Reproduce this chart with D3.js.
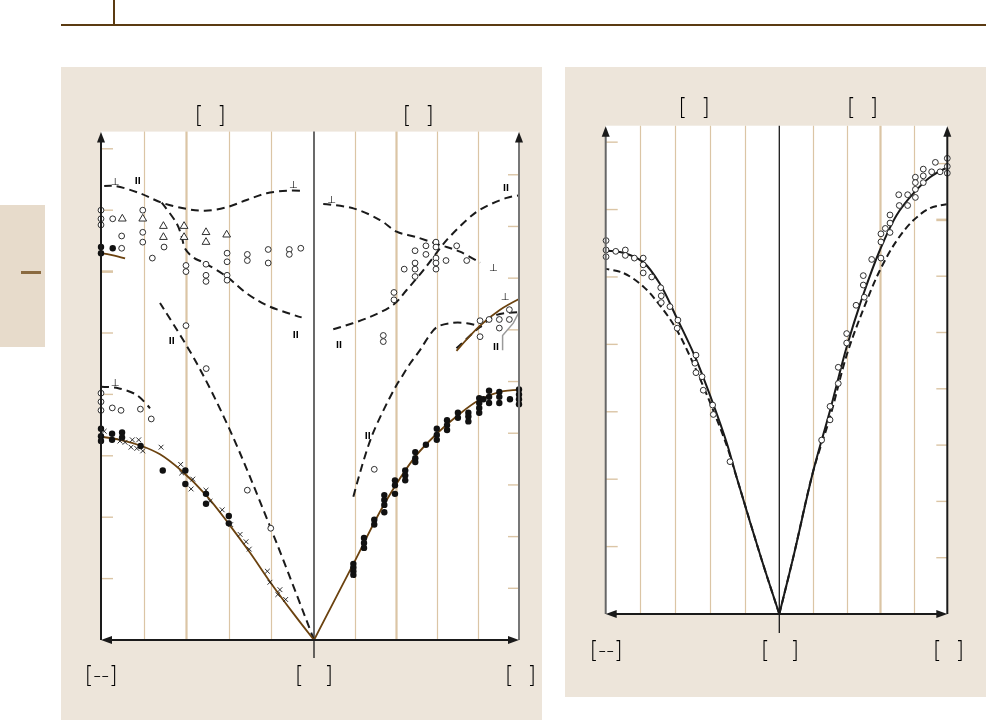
<!DOCTYPE html>
<html><head><meta charset="utf-8">
<script src="https://cdn.jsdelivr.net/npm/d3@7"></script>
<style>body{margin:0;background:#fff}svg{display:block}.gray{filter:grayscale(100%);}</style>
</head><body>
<script>
// ================= DATA =================
// tick values (labels removed in reference)
const ticksMeV1 = [5,10,15,20,25,30,35,40];
const ticksTHz1 = [1,2,3,4,5,6,7,8,9];
const ticksMeV2 = [5,10,15,20,25,30,35];
const ticksTHz2 = [1,2,3,4,5,6,7,8];
const gridZeta = [0.2,0.4,0.6,0.8];

// ---- Plot 1, left half (zeta, meV) ----
const p1A_fitBrown = [[0,0],[0.097,2.17],[0.207,4.75],[0.3,7.1],[0.402,9.5],[0.507,11.8],[0.626,13.84],[0.723,15.12],[0.809,15.8],[0.911,16.3],[1,16.55]];
const p1A_fitBrownTop = [[1,31.5],[0.948,31.35],[0.887,31.08]];
const p1A_dashLA = [[0,0],[0.203,9.1],[0.402,17.37],[0.559,22.8],[0.723,27.44]];
const p1A_dashTop = [[0.066,36.59],[0.128,36.59],[0.222,36.38],[0.316,35.83],[0.41,35.24],[0.512,34.96],[0.598,35.1],[0.715,35.61],[0.817,36.38],[0.934,36.97],[0.985,36.97]];
const p1A_dashBranch = [[0.715,35.61],[0.645,33.93],[0.621,32.84],[0.606,31.9],[0.567,31.16],[0.512,30.68],[0.41,29.59],[0.316,28.23],[0.215,27.2],[0.058,26.27]];
const p1A_dashLow = [[1.0,20.63],[0.919,20.5],[0.832,19.95],[0.77,18.87]];
const p1A_open = [[1,35.0],[1,34.3],[1,33.8],[0.945,34.3],[0.804,35.0],[0.903,32.9],[0.804,33.2],[0.903,31.9],[0.804,32.4],[0.704,32.0],[0.759,31.1],[0.601,30.5],[0.601,30.0],[0.507,30.6],[0.507,29.7],[0.507,29.2],[0.408,31.5],[0.408,30.8],[0.408,29.7],[0.408,29.3],[0.313,31.4],[0.313,30.9],[0.215,31.8],[0.215,30.7],[0.116,31.8],[0.116,31.4],[0.062,31.9],[0.601,25.6],[0.506,22.1],[0.313,12.2],[0.203,9.1],[1,20.1],[1,19.4],[1,18.7],[0.947,18.9],[0.906,18.7],[0.815,18.8],[0.764,18.0]];
const p1A_tri = [[0.9,34.3],[0.804,34.3],[0.707,33.7],[0.61,33.7],[0.707,32.8],[0.61,32.8],[0.507,33.2],[0.507,32.4],[0.41,33.0]];
const p1A_filled = [[1,32.0],[1,31.5],[0.945,31.9],[1,17.2],[1,16.6],[1,16.2],[0.948,16.8],[0.948,16.3],[0.901,16.9],[0.901,16.5],[0.814,15.8],[0.71,13.8],[0.604,13.8],[0.604,12.7],[0.507,11.9],[0.507,11.1],[0.4,10.1],[0.4,9.5]];
const p1A_cross = [[0.985,17.0],[0.911,16.2],[0.887,16.1],[0.859,15.7],[0.853,16.3],[0.832,15.6],[0.823,16.3],[0.804,15.4],[0.718,15.7],[0.626,14.3],[0.621,13.6],[0.569,13.1],[0.577,12.3],[0.507,12.2],[0.488,11.3],[0.431,10.6],[0.391,9.4],[0.347,8.6],[0.319,8.0],[0.304,7.4],[0.219,5.6],[0.207,4.7],[0.16,4.1],[0.17,3.7],[0.133,3.3]];
const p1A_labels = [["⊥",0.934,37.3],["II",0.828,37.3],["⊥",0.097,37.1],["II",0.668,24.3],["II",0.086,24.8],["⊥",0.934,20.95]];

// ---- Plot 1, right half ----
const p1B_fitBrown = [[0,0],[0.192,6.2],[0.343,11.07],[0.494,14.93],[0.598,16.78],[0.702,18.3],[0.806,19.54],[0.907,20.2],[1,20.36]];
const p1B_fitBrownTop = [[0.695,23.55],[0.81,25.6],[0.908,26.9],[1.0,27.77]];
const p1B_dashTop = [[0.045,35.5],[0.192,35.15],[0.322,34.2],[0.403,33.25],[0.493,32.84],[0.615,32.17],[0.712,31.62],[0.81,30.72]];
const p1B_dashRise = [[0.094,25.3],[0.257,26.2],[0.387,27.3],[0.452,28.5],[0.533,30.1],[0.615,31.9],[0.649,32.6],[0.745,34.2],[0.81,35.05],[0.94,36.0],[0.997,36.2]];
const p1B_dashLA = [[0.192,11.67],[0.281,16.56],[0.403,20.77],[0.42,21.2],[0.468,22.5],[0.517,23.6],[0.559,24.7],[0.598,25.46],[0.663,25.8],[0.745,25.8],[0.818,25.5]];
const p1B_dashEdge = [[0.695,23.75],[0.81,25.5],[0.892,26.47],[0.997,26.7]];
const p1B_bracket = [[0.92,23.6],[0.92,24.8],[0.972,25.8],[0.997,26.6]];
const p1B_open = [[0.595,32.4],[0.546,32.1],[0.493,31.7],[0.595,32.0],[0.696,32.1],[0.546,31.4],[0.595,31.1],[0.644,30.9],[0.745,30.9],[0.493,30.7],[0.595,30.7],[0.44,30.2],[0.493,30.2],[0.595,30.2],[0.493,29.6],[0.39,28.3],[0.39,27.7],[0.338,24.8],[0.338,24.3],[0.81,26.0],[0.81,24.7],[0.854,26.1],[0.904,26.1],[0.953,26.9],[0.953,26.1],[0.904,25.4],[0.294,13.9]];
const p1B_filled = [[0.192,6.2],[0.192,5.9],[0.192,5.6],[0.192,5.3],[0.244,8.3],[0.244,7.9],[0.244,7.5],[0.294,9.8],[0.294,9.4],[0.343,11.8],[0.343,11.4],[0.343,11.0],[0.343,10.4],[0.395,13.0],[0.395,12.6],[0.395,11.9],[0.445,13.8],[0.445,13.4],[0.445,13.0],[0.494,15.3],[0.494,14.8],[0.494,14.5],[0.546,15.9],[0.599,17.2],[0.599,16.7],[0.599,16.3],[0.649,17.9],[0.649,17.5],[0.649,17.1],[0.702,18.5],[0.702,18.1],[0.753,18.5],[0.753,18.2],[0.753,17.8],[0.806,19.7],[0.806,19.3],[0.806,18.9],[0.806,18.5],[0.826,19.6],[0.854,20.3],[0.854,19.8],[0.854,19.3],[0.904,20.2],[0.904,19.8],[0.904,19.3],[0.956,19.6],[1.0,20.4],[1.0,20.0],[1.0,19.6],[1.0,19.2]];
const p1B_labels = [["⊥",0.086,35.9],["II",0.937,36.8],["⊥",0.875,30.3],["⊥",0.932,28.0],["II",0.122,24.0],["II",0.888,23.8],["II",0.262,16.55]];

// ---- Plot 2 ----
const p2A_solid = [[0,0],[0.101,4.0],[0.245,10.1],[0.303,12.7],[0.39,15.9],[0.486,19.1],[0.592,22.0],[0.688,24.5],[0.784,26.1],[0.899,26.8],[1.0,26.95]];
const p2A_dash = [[0,0],[0.101,4.0],[0.245,10.1],[0.303,12.5],[0.39,15.4],[0.486,18.3],[0.592,21.1],[0.688,22.9],[0.784,24.3],[0.899,25.3],[1.0,25.6]];
const p2A_open = [[0.998,27.7],[0.998,27.0],[0.998,26.5],[0.942,26.9],[0.887,27.0],[0.887,26.6],[0.835,26.4],[0.784,26.4],[0.784,25.9],[0.784,25.3],[0.735,25.0],[0.683,24.2],[0.68,23.6],[0.68,23.1],[0.63,22.8],[0.584,21.8],[0.588,21.2],[0.48,19.2],[0.486,18.6],[0.48,17.9],[0.445,17.6],[0.438,16.6],[0.384,15.5],[0.38,14.8],[0.284,11.3]];
const p2B_solid = [[0,0],[0.083,4.2],[0.202,10.6],[0.302,15.1],[0.401,19.8],[0.5,23.7],[0.599,27.0],[0.699,29.6],[0.798,31.2],[0.897,32.4],[0.996,33.1]];
const p2B_dash = [[0,0],[0.083,4.2],[0.202,10.6],[0.302,14.6],[0.401,19.2],[0.5,22.6],[0.599,25.5],[0.699,27.7],[0.798,29.2],[0.897,30.1],[0.996,30.4]];
const p2B_open = [[0.252,12.9],[0.302,15.4],[0.302,14.4],[0.351,18.3],[0.351,17.1],[0.401,20.8],[0.401,20.1],[0.457,22.9],[0.5,25.1],[0.5,24.4],[0.506,23.5],[0.55,26.3],[0.605,28.2],[0.605,27.6],[0.605,26.4],[0.631,28.6],[0.659,29.6],[0.659,29.0],[0.659,28.3],[0.711,31.1],[0.714,30.3],[0.764,31.1],[0.764,30.3],[0.81,32.4],[0.81,32.0],[0.81,31.5],[0.81,30.9],[0.857,33.0],[0.857,32.5],[0.857,32.0],[0.907,32.8],[0.929,33.5],[0.957,32.8],[1.0,33.8],[1.0,33.2],[1.0,32.7]];

// ================= DRAWING =================
const BG = "#ede5da", GRID = "#dbc5a5", BROWN = "#6b420f", INK = "#1a1a1a";
const svg = d3.select("body").append("svg").attr("width", 986).attr("height", 720);

// header rule
svg.append("line").attr("x1", 61).attr("x2", 986).attr("y1", 25).attr("y2", 25).attr("stroke", "#5b3b12").attr("stroke-width", 2);
svg.append("line").attr("x1", 114).attr("x2", 114).attr("y1", 0).attr("y2", 25).attr("stroke", "#5b3b12").attr("stroke-width", 2);
// side tab
svg.append("rect").attr("x", 0).attr("y", 205).attr("width", 45).attr("height", 142).attr("fill", "#e7dbcb");
svg.append("rect").attr("x", 21).attr("y", 271).attr("width", 20).attr("height", 3).attr("fill", "#8a6a40");
// panels
svg.append("rect").attr("x", 61).attr("y", 67).attr("width", 481).attr("height", 653).attr("fill", BG);
svg.append("rect").attr("x", 565).attr("y", 67).attr("width", 421).attr("height", 630).attr("fill", BG);

const textLayer = svg.append("g").attr("class", "gray");

function bracket(x, y, txt) {
  textLayer.append("text").attr("x", x).attr("y", y).attr("text-anchor", "middle")
    .attr("font-family", "DejaVu Sans, sans-serif").attr("font-weight", 200).attr("font-size", 22)
    .attr("transform", `translate(${x},${y}) scale(1,1.05) translate(${-x},${-y})`)
    .attr("fill", "#000").attr("xml:space", "preserve").style("white-space", "pre").text(txt);
}

function drawPlot(cfg) {
  const g = svg.append("g");
  const {xc, xl, xr, yt, yb, meVmax, THzmax} = cfg;
  const y = d3.scaleLinear().domain([0, meVmax]).range([yb, yt]);
  const yT = d3.scaleLinear().domain([0, THzmax]).range([yb, yt]);
  const xA = d3.scaleLinear().domain([0, 1]).range([xc, xl]);
  const xB = d3.scaleLinear().domain([0, 1]).range([xc, xr]);

  g.append("rect").attr("x", xl).attr("y", yt).attr("width", xr - xl).attr("height", yb - yt).attr("fill", "#fff");
  // vertical grid
  gridZeta.forEach(z => {
    [[xA, cfg.thickA], [xB, cfg.thickB]].forEach(([s, thick]) => {
      const px = Math.round(s(z)) + 0.5;
      g.append("line").attr("x1", px).attr("x2", px).attr("y1", yt).attr("y2", yb)
        .attr("stroke", GRID).attr("stroke-width", z === thick ? 2.2 : 1.2);
    });
  });
  // y ticks
  cfg.ticksL.forEach(v => g.append("line").attr("x1", xl).attr("x2", xl + 12).attr("y1", y(v)).attr("y2", y(v))
    .attr("stroke", GRID).attr("stroke-width", v === cfg.thickTickL ? 2.6 : 1.4));
  cfg.ticksR.forEach(v => g.append("line").attr("x1", xr).attr("x2", xr - 11).attr("y1", yT(v)).attr("y2", yT(v))
    .attr("stroke", GRID).attr("stroke-width", v === cfg.thickTickR ? 2.6 : 1.4));

  // center line
  g.append("line").attr("x1", xc).attr("x2", xc).attr("y1", yt).attr("y2", yb + cfg.tickDown)
    .attr("stroke", INK).attr("stroke-width", 1.3);

  const lineA = d3.line().x(d => xA(d[0])).y(d => y(d[1])).curve(d3.curveCatmullRom.alpha(0.5));
  const lineB = d3.line().x(d => xB(d[0])).y(d => y(d[1])).curve(d3.curveCatmullRom.alpha(0.5));
  const linLine = d3.line().x(d => xB(d[0])).y(d => y(d[1]));

  (cfg.curves || []).forEach(c => {
    g.append("path").attr("d", (c.side === "A" ? lineA : (c.linear ? linLine : lineB))(c.data))
      .attr("fill", "none").attr("stroke", c.color).attr("stroke-width", c.width)
      .attr("stroke-dasharray", c.dash || null).attr("stroke-linecap", "butt");
  });

  const sx = side => side === "A" ? xA : xB;
  (cfg.open || []).forEach(([side, data]) => g.selectAll(null).data(data).enter().append("circle")
    .attr("cx", d => sx(side)(d[0])).attr("cy", d => y(d[1])).attr("r", 2.9)
    .attr("fill", "#fff").attr("stroke", INK).attr("stroke-width", 0.9));
  (cfg.filled || []).forEach(([side, data]) => g.selectAll(null).data(data).enter().append("circle")
    .attr("cx", d => sx(side)(d[0])).attr("cy", d => y(d[1])).attr("r", 3.2).attr("fill", "#111"));
  (cfg.tri || []).forEach(([side, data]) => g.selectAll(null).data(data).enter().append("path")
    .attr("d", d3.symbol(d3.symbolTriangle, 26)).attr("transform", d => `translate(${sx(side)(d[0])},${y(d[1])})`)
    .attr("fill", "#fff").attr("stroke", INK).attr("stroke-width", 0.9));
  (cfg.cross || []).forEach(([side, data]) => g.selectAll(null).data(data).enter().append("path")
    .attr("d", "M-2.4,-2.4L2.4,2.4M-2.4,2.4L2.4,-2.4").attr("transform", d => `translate(${sx(side)(d[0])},${y(d[1])})`)
    .attr("fill", "none").attr("stroke", INK).attr("stroke-width", 0.9));
  const lg = g.append("g").attr("class", "gray");
  (cfg.labels || []).forEach(([side, data]) => lg.selectAll(null).data(data).enter().append("text")
    .attr("x", d => sx(side)(d[1])).attr("y", d => y(d[2])).attr("text-anchor", "middle").attr("dominant-baseline", "central")
    .attr("font-family", "DejaVu Sans, sans-serif").attr("font-size", d => d[0] === "⊥" ? 10 : 8)
    .attr("font-weight", d => d[0] === "⊥" ? "normal" : "bold").attr("fill", "#000")
    .text(d => d[0]));

  // axes
  g.append("line").attr("x1", xl).attr("x2", xl).attr("y1", yt + 8).attr("y2", yb).attr("stroke", cfg.leftAxisColor).attr("stroke-width", 2);
  g.append("line").attr("x1", xr).attr("x2", xr).attr("y1", yt + 8).attr("y2", yb).attr("stroke", cfg.rightAxisColor).attr("stroke-width", 2);
  g.append("line").attr("x1", xl + 6).attr("x2", xr - 6).attr("y1", yb).attr("y2", yb).attr("stroke", INK).attr("stroke-width", 2.2);
  const arrow = (pts) => g.append("path").attr("d", "M" + pts.join("L") + "Z").attr("fill", INK);
  arrow([[xl, yt + 0.5], [xl - 4, yt + 11], [xl + 4, yt + 11]]);
  arrow([[xr, yt + 0.5], [xr - 4, yt + 11], [xr + 4, yt + 11]]);
  arrow([[xl, yb], [xl + 11, yb - 4], [xl + 11, yb + 4]]);
  arrow([[xr, yb], [xr - 11, yb - 4], [xr - 11, yb + 4]]);

  // bracket labels (contents blank in reference)
  cfg.brackets.forEach(b => bracket(b[0], b[1], b[2]));
}

drawPlot({
  xc: 314, xl: 101, xr: 519, yt: 131.6, yb: 640, meVmax: 41.4, THzmax: 9.835, tickDown: 18,
  thickA: 0.6, thickB: 0.4, thickTickL: 30, thickTickR: null,
  ticksL: ticksMeV1, ticksR: ticksTHz1, leftAxisColor: INK, rightAxisColor: "#777",
  curves: [
    {side: "A", data: p1A_dashLA, color: INK, width: 2, dash: "8,5"},
    {side: "A", data: p1A_dashTop, color: INK, width: 2, dash: "8,5"},
    {side: "A", data: p1A_dashBranch, color: INK, width: 2, dash: "8,5"},
    {side: "A", data: p1A_dashLow, color: INK, width: 2, dash: "8,5"},
    {side: "A", data: p1A_fitBrown, color: BROWN, width: 1.8},
    {side: "A", data: p1A_fitBrownTop, color: BROWN, width: 1.8},
    {side: "B", data: p1B_dashTop, color: INK, width: 2, dash: "8,5"},
    {side: "B", data: p1B_dashRise, color: INK, width: 2, dash: "8,5"},
    {side: "B", data: p1B_dashLA, color: INK, width: 2, dash: "8,5"},
    {side: "B", data: p1B_dashEdge, color: INK, width: 2, dash: "8,5"},
    {side: "B", data: p1B_fitBrown, color: BROWN, width: 1.8},
    {side: "B", data: p1B_fitBrownTop, color: BROWN, width: 1.8},
    {side: "B", data: p1B_bracket, color: "#9a9a9a", width: 1.5, linear: true}
  ],
  open: [["A", p1A_open], ["B", p1B_open]],
  filled: [["A", p1A_filled], ["B", p1B_filled]],
  tri: [["A", p1A_tri]],
  cross: [["A", p1A_cross]],
  labels: [["A", p1A_labels], ["B", p1B_labels]],
  brackets: [[210.3, 123, "[  ]"], [418.3, 123, "[  ]"], [101.2, 683, "[--]"], [314, 683, "[   ]"], [520.5, 683, "[  ]"]]
});

drawPlot({
  xc: 779.3, xl: 605.7, xr: 947.3, yt: 125.7, yb: 614, meVmax: 36.22, THzmax: 8.673, tickDown: 19,
  thickA: null, thickB: 0.6, thickTickL: null, thickTickR: 7,
  ticksL: ticksMeV2, ticksR: ticksTHz2, leftAxisColor: "#666", rightAxisColor: INK,
  curves: [
    {side: "A", data: p2A_dash, color: INK, width: 2, dash: "7,4"},
    {side: "A", data: p2A_solid, color: INK, width: 2},
    {side: "B", data: p2B_dash, color: INK, width: 2, dash: "7,4"},
    {side: "B", data: p2B_solid, color: INK, width: 2}
  ],
  open: [["A", p2A_open], ["B", p2B_open]],
  brackets: [[694.2, 115.5, "[  ]"], [862.5, 115.5, "[  ]"], [606.2, 658.5, "[--]"], [780, 658.5, "[   ]"], [948.5, 658.5, "[  ]"]]
});
</script>
</body></html>
